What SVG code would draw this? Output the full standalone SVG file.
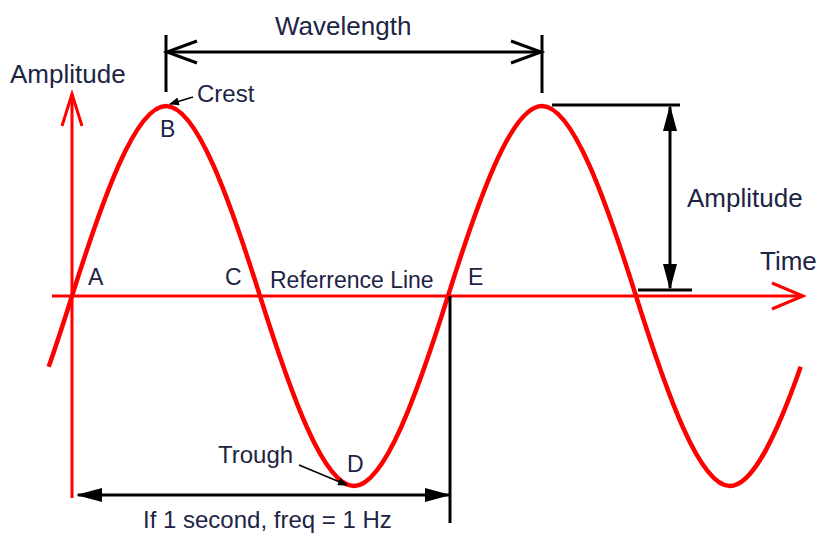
<svg xmlns="http://www.w3.org/2000/svg" width="820" height="533" viewBox="0 0 820 533">
  <style>
    .t { font-family: "Liberation Sans", Arial, sans-serif; fill: #1d2444; }
    .axis { stroke: #ff0000; stroke-width: 3; fill: none; }
    .wave { stroke: #ff0000; stroke-width: 4.5; fill: none; }
    .dim { stroke: #000; stroke-width: 3; fill: none; }
    .thin { stroke: #000; stroke-width: 1.5; fill: none; }
  </style>
  <defs>
    <marker id="fa" viewBox="0 0 26 14" refX="24" refY="7" markerWidth="26" markerHeight="14" markerUnits="userSpaceOnUse" orient="auto-start-reverse">
      <path d="M0,0 L26,7 L0,14 z" fill="#000"/>
    </marker>
    <marker id="sa" viewBox="0 0 10 8" refX="9" refY="4" markerWidth="10" markerHeight="8" markerUnits="userSpaceOnUse" orient="auto">
      <path d="M0,0 L10,4 L0,8 z" fill="#000"/>
    </marker>
  </defs>

  <g id="axes">
    <line class="axis" x1="72" y1="94" x2="72" y2="498"/>
    <polyline class="axis" points="62,126 72,94 82,126"/>
    <line class="axis" x1="52" y1="296" x2="803" y2="296"/>
    <polyline class="axis" points="772,283 803,296 772,309"/>
  </g>

  <g id="wave">
    <path class="wave" d="M48.7,366.8 C56.55,344.35 64.34,320.3 72,296 C102.66,198.7 135.34,106 166,106 C196.66,106 229.34,198.7 260,296 C290.66,393.3 323.34,486 354,486 C384.66,486 417.34,393.3 448,296 C478.66,198.7 511.34,106 542,106 C572.66,106 605.34,198.7 636,296 C666.66,393.3 699.34,486 730,486 C753,486 777.13,433.9 800.7,366.8"/>
  </g>

  <g id="connectors">
    <g id="wavelength-dim">
      <line class="dim" x1="166" y1="35" x2="166" y2="92"/>
      <line class="dim" x1="542" y1="35" x2="542" y2="93"/>
      <line class="dim" x1="166" y1="52" x2="542" y2="52"/>
      <polyline class="dim" points="197,41 167,52 197,63"/>
      <polyline class="dim" points="511,41 541,52 511,63"/>
    </g>
    <g id="amplitude-dim">
      <line class="dim" x1="552" y1="105" x2="680" y2="105"/>
      <line class="dim" x1="638" y1="290" x2="692" y2="290"/>
      <line class="dim" x1="670" y1="107" x2="670" y2="288" marker-start="url(#fa)" marker-end="url(#fa)"/>
    </g>
    <g id="period-dim">
      <line class="dim" x1="450" y1="296" x2="450" y2="523"/>
      <line class="dim" x1="78" y1="495" x2="449" y2="495" marker-start="url(#fa)" marker-end="url(#fa)"/>
    </g>
    <line id="crest-pointer" class="thin" x1="193" y1="97" x2="170" y2="104" marker-end="url(#sa)"/>
    <line id="trough-pointer" class="thin" x1="299" y1="465" x2="347" y2="485" marker-end="url(#sa)"/>
  </g>

  <g id="labels">
    <text id="amp-axis" class="t" x="10" y="83" font-size="26">Amplitude</text>
    <text id="wavelength" class="t" x="275" y="35" font-size="26">Wavelength</text>
    <text id="crest" class="t" x="197" y="102" font-size="24">Crest</text>
    <text id="B" class="t" x="160" y="137" font-size="23">B</text>
    <text id="A" class="t" x="88" y="285" font-size="23">A</text>
    <text id="C" class="t" x="225" y="285" font-size="23">C</text>
    <text id="refline" class="t" x="270" y="288" font-size="23">Referrence Line</text>
    <text id="E" class="t" x="468" y="285" font-size="23">E</text>
    <text id="time" class="t" x="760" y="270" font-size="26">Time</text>
    <text id="amp-dim" class="t" x="687" y="207" font-size="26">Amplitude</text>
    <text id="trough" class="t" x="218" y="463" font-size="24">Trough</text>
    <text id="D" class="t" x="347" y="472" font-size="23">D</text>
    <text id="freq" class="t" x="143" y="528" font-size="24">If 1 second, freq = 1 Hz</text>
  </g>
</svg>
